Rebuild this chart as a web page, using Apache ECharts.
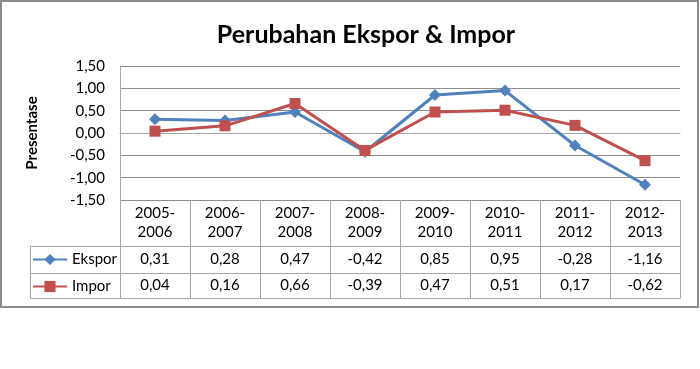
<!DOCTYPE html>
<html><head><meta charset="utf-8">
<script src="https://cdn.jsdelivr.net/npm/echarts@6/dist/echarts.min.js"></script>
<style>html,body{margin:0;padding:0;background:#fff}#c{width:700px;height:369px}</style>
</head><body><div id="c"></div>
<script>
var categories = ['2005-\n2006','2006-\n2007','2007-\n2008','2008-\n2009','2009-\n2010','2010-\n2011','2011-\n2012','2012-\n2013'];
var ekspor = [0.31, 0.28, 0.47, -0.42, 0.85, 0.95, -0.28, -1.16];
var impor = [0.04, 0.16, 0.66, -0.39, 0.47, 0.51, 0.17, -0.62];
var yTicks = [-1.5, -1.0, -0.5, 0, 0.5, 1.0, 1.5];
var title = 'Perubahan Ekspor & Impor';
var yName = 'Presentase';

var FONT = 'Lato';
var fmt = function (v) { return v.toFixed(2).replace('.', ','); };
var tableColor = '#a6a6a6';
var gridL = 120, gridT = 66, gridR = 680, gridB = 200, tableB = 298;

var chart = echarts.init(document.getElementById('c'), null, {renderer: 'canvas'});
var hidden = {show: false};
chart.setOption({
  backgroundColor: '#fff',
  animation: false,
  textStyle: {fontFamily: FONT},
  title: {text: title, left: 361, textAlign: 'center', top: 17,
    textStyle: {fontFamily: FONT, fontSize: 25, fontWeight: 'bold', color: '#000'}},
  legend: {orient: 'vertical', left: 27, top: 247, itemGap: 12, itemWidth: 34, itemHeight: 14,
    textStyle: {fontFamily: FONT, fontSize: 15, color: '#000'}, data: ['Ekspor', 'Impor']},
  grid: [
    {left: gridL, top: gridT, right: 700 - gridR, bottom: 369 - gridB},
    {left: gridL, top: gridB, right: 700 - gridR, bottom: 369 - tableB}
  ],
  xAxis: [
    {type: 'category', data: categories, gridIndex: 0, position: 'bottom', boundaryGap: true,
      axisLine: {show: true, lineStyle: {color: tableColor, width: 1}},
      axisTick: hidden,
      axisLabel: {interval: 0, margin: 23, verticalAlign: 'middle', lineHeight: 19,
        fontFamily: FONT, fontSize: 15, color: '#000'},
      splitLine: hidden},
    {type: 'category', data: categories, gridIndex: 0, position: 'bottom', offset: 46,
      axisLine: {show: true, lineStyle: {color: tableColor}}, axisTick: hidden,
      axisLabel: {interval: 0, margin: 13.5, verticalAlign: 'middle', fontFamily: FONT, fontSize: 15, color: '#000',
        formatter: function (v, i) { return fmt(ekspor[i]); }}},
    {type: 'category', data: categories, gridIndex: 0, position: 'bottom', offset: 73,
      axisLine: {show: true, lineStyle: {color: tableColor}}, axisTick: hidden,
      axisLabel: {interval: 0, margin: 12.5, verticalAlign: 'middle', fontFamily: FONT, fontSize: 15, color: '#000',
        formatter: function (v, i) { return fmt(impor[i]); }}},
    {type: 'category', data: categories, gridIndex: 0, position: 'bottom', offset: 98,
      axisLine: {show: true, lineStyle: {color: tableColor}}, axisTick: hidden, axisLabel: hidden},
    {type: 'category', data: categories, gridIndex: 1, position: 'top', boundaryGap: true,
      axisLine: hidden, axisTick: hidden, axisLabel: hidden,
      splitLine: {show: true, interval: 0, lineStyle: {color: tableColor, width: 1}}}
  ],
  yAxis: [
    {type: 'value', gridIndex: 0, min: yTicks[0], max: yTicks[yTicks.length - 1], interval: 0.5,
      name: yName, nameLocation: 'middle', nameGap: 80, nameRotate: 90,
      nameTextStyle: {fontFamily: FONT, fontSize: 15, fontWeight: 'bold', color: '#000'},
      axisLine: {show: true, lineStyle: {color: tableColor}}, axisTick: hidden,
      axisLabel: {margin: 15, fontFamily: FONT, fontSize: 15, color: '#000', formatter: fmt},
      splitLine: {show: true, lineStyle: {color: '#8c8c8c', width: 1}}},
    {type: 'value', gridIndex: 1, min: 0, max: 1, show: false, splitLine: hidden}
  ],
  series: [
    {name: 'Ekspor', type: 'line', data: ekspor, xAxisIndex: 0, yAxisIndex: 0, symbol: 'diamond', symbolSize: 12,
      lineStyle: {color: '#4F81BD', width: 3}, itemStyle: {color: '#4F81BD'}, z: 3},
    {name: 'Impor', type: 'line', data: impor, xAxisIndex: 0, yAxisIndex: 0, symbol: 'rect', symbolSize: 11,
      lineStyle: {color: '#C0504D', width: 3}, itemStyle: {color: '#C0504D'}, z: 4}
  ],
  graphic: [
    {type: 'rect', shape: {x: 1, y: 1, width: 697, height: 306}, style: {fill: null, stroke: '#8c8c8c', lineWidth: 2}, silent: true},
    {type: 'line', shape: {x1: 30, y1: 246.5, x2: gridL, y2: 246.5}, style: {stroke: tableColor, lineWidth: 1}},
    {type: 'line', shape: {x1: 30, y1: 273.5, x2: gridL, y2: 273.5}, style: {stroke: tableColor, lineWidth: 1}},
    {type: 'line', shape: {x1: 30, y1: 298.5, x2: gridL, y2: 298.5}, style: {stroke: tableColor, lineWidth: 1}},
    {type: 'line', shape: {x1: 30.5, y1: 246, x2: 30.5, y2: 298.5}, style: {stroke: tableColor, lineWidth: 1}}
  ]
});
</script></body></html>
